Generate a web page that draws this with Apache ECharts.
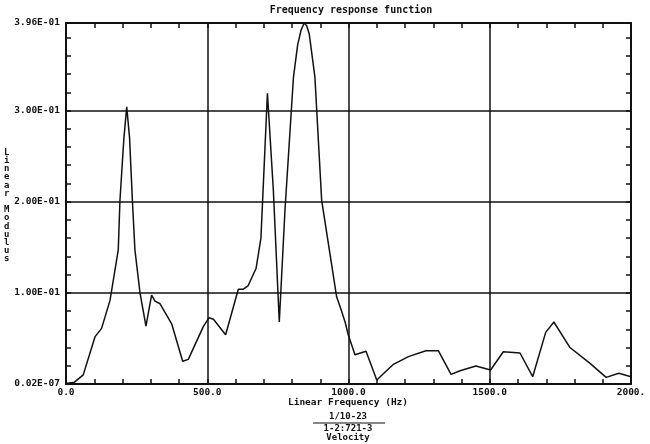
<!DOCTYPE html>
<html><head><meta charset="utf-8">
<script src="https://cdn.jsdelivr.net/npm/echarts@6/dist/echarts.min.js"></script>
<style>html,body{margin:0;padding:0;background:#fff}#c{width:650px;height:444px}</style>
</head><body><div id="c"></div>
<script>
// Frequency (Hz)
var freq = [0, 30, 61, 103, 126, 156, 185, 191, 205, 215, 225, 235, 244, 262, 283, 303, 315, 333, 374, 413, 433, 486, 506, 522, 565, 610, 628, 645, 673, 690, 713, 734, 755, 775, 805, 820, 832, 843, 852, 861, 881, 905, 958, 970, 988, 999, 1023, 1062, 1100, 1159, 1212, 1274, 1318, 1363, 1395, 1451, 1503, 1548, 1607, 1652, 1698, 1727, 1784, 1855, 1912, 1957, 2000];
// Linear modulus
var modulus = [0.0005, 0.002, 0.01, 0.052, 0.061, 0.092, 0.147, 0.2016, 0.27, 0.304, 0.27, 0.2016, 0.147, 0.1, 0.0635, 0.0975, 0.091, 0.088, 0.066, 0.025, 0.027, 0.063, 0.0726, 0.071, 0.054, 0.104, 0.104, 0.108, 0.127, 0.16, 0.319, 0.2125, 0.068, 0.19, 0.336, 0.372, 0.388, 0.396, 0.393, 0.384, 0.337, 0.2015, 0.0956, 0.085, 0.068, 0.054, 0.032, 0.036, 0.0044, 0.0216, 0.03, 0.0365, 0.0365, 0.0106, 0.0146, 0.0197, 0.0153, 0.0354, 0.034, 0.008, 0.0566, 0.068, 0.04, 0.0226, 0.0073, 0.0117, 0.008];
var xTickLabels = {0: '0.0', 500: '500.0', 1000: '1000.0', 1500: '1500.0', 2000: '2000.'};
var yTickLabels = ['0.02E-07', '1.00E-01', '2.00E-01', '3.00E-01'];
var yTopLabel = '3.96E-01';
var xGrid = [500, 1000, 1500];
var yGrid = [0.1, 0.2, 0.3];

var FONT = 'DejaVu Sans Mono';
var chart = echarts.init(document.getElementById('c'));
var data = freq.map(function (f, i) { return [f, modulus[i]]; });
var YMAX = 0.396;
var lbl = {fontFamily: FONT, fontWeight: 'bold', fontSize: 9.5, color: '#111'};
var edge = {onZero: false, lineStyle: {color: '#111', width: 2}};
var tick = {inside: true, length: 5, lineStyle: {color: '#111', width: 1.5}};
chart.setOption({
  animation: false,
  backgroundColor: '#fff',
  title: {text: 'Frequency response function', left: 346, top: 0, textAlign: 'center',
    textStyle: {fontFamily: FONT, fontWeight: 'bold', fontSize: 10, color: '#111'}},
  grid: {left: 66, right: 19, top: 23, bottom: 60},
  xAxis: [{
    type: 'value', min: 0, max: 2000, interval: 100, position: 'bottom',
    axisLine: edge, axisTick: tick,
    axisLabel: Object.assign({margin: 4, formatter: function (v) { return xTickLabels[v] || ''; }}, lbl),
    splitLine: {show: false}
  }, {
    type: 'value', min: 0, max: 2000, interval: 100, position: 'top',
    axisLine: edge, axisTick: tick,
    axisLabel: {show: false}, splitLine: {show: false}
  }],
  yAxis: [{
    type: 'value', min: 0, max: YMAX, interval: 0.02, position: 'left',
    axisLine: Object.assign({show: true}, edge), axisTick: Object.assign({show: true}, tick),
    axisLabel: Object.assign({margin: 6, formatter: function (v) {
      if (Math.abs(v - YMAX) < 1e-6) return yTopLabel;
      var k = Math.round(v / 0.1);
      if (Math.abs(v - k * 0.1) < 1e-6 && k < yTickLabels.length) return yTickLabels[k];
      return '';
    }}, lbl),
    splitLine: {show: false}
  }, {
    type: 'value', min: 0, max: YMAX, interval: 0.02, position: 'right',
    axisLine: Object.assign({show: true}, edge), axisTick: Object.assign({show: true}, tick),
    axisLabel: {show: false}, splitLine: {show: false}
  }],
  graphic: [
    {type: 'text', left: 4, top: 148, style: {text: 'L\ni\nn\ne\na\nr\n\nM\no\nd\nu\nl\nu\ns', font: 'bold 9px "DejaVu Sans Mono"', fill: '#111', lineHeight: 8.2}},
    {type: 'text', x: 348, y: 398, style: {text: 'Linear Frequency (Hz)', font: 'bold 9.5px "DejaVu Sans Mono"', fill: '#111', textAlign: 'center'}},
    {type: 'text', x: 348, y: 412, style: {text: '1/10-23', font: 'bold 9px "DejaVu Sans Mono"', fill: '#111', textAlign: 'center'}},
    {type: 'line', shape: {x1: 313, y1: 423, x2: 385, y2: 423}, style: {stroke: '#111', lineWidth: 1.2}},
    {type: 'text', x: 348, y: 424, style: {text: '1-2:721-3', font: 'bold 9px "DejaVu Sans Mono"', fill: '#111', textAlign: 'center'}},
    {type: 'text', x: 348, y: 433, style: {text: 'Velocity', font: 'bold 9px "DejaVu Sans Mono"', fill: '#111', textAlign: 'center'}}
  ],
  series: [{
    type: 'line', data: data, showSymbol: false, smooth: false,
    lineStyle: {color: '#111', width: 1.5},
    markLine: {
      silent: true, symbol: 'none', label: {show: false},
      lineStyle: {color: '#111', width: 1.5, type: 'solid'},
      data: xGrid.map(function (x) { return {xAxis: x}; }).concat(yGrid.map(function (y) { return {yAxis: y}; }))
    }
  }]
});
</script></body></html>
